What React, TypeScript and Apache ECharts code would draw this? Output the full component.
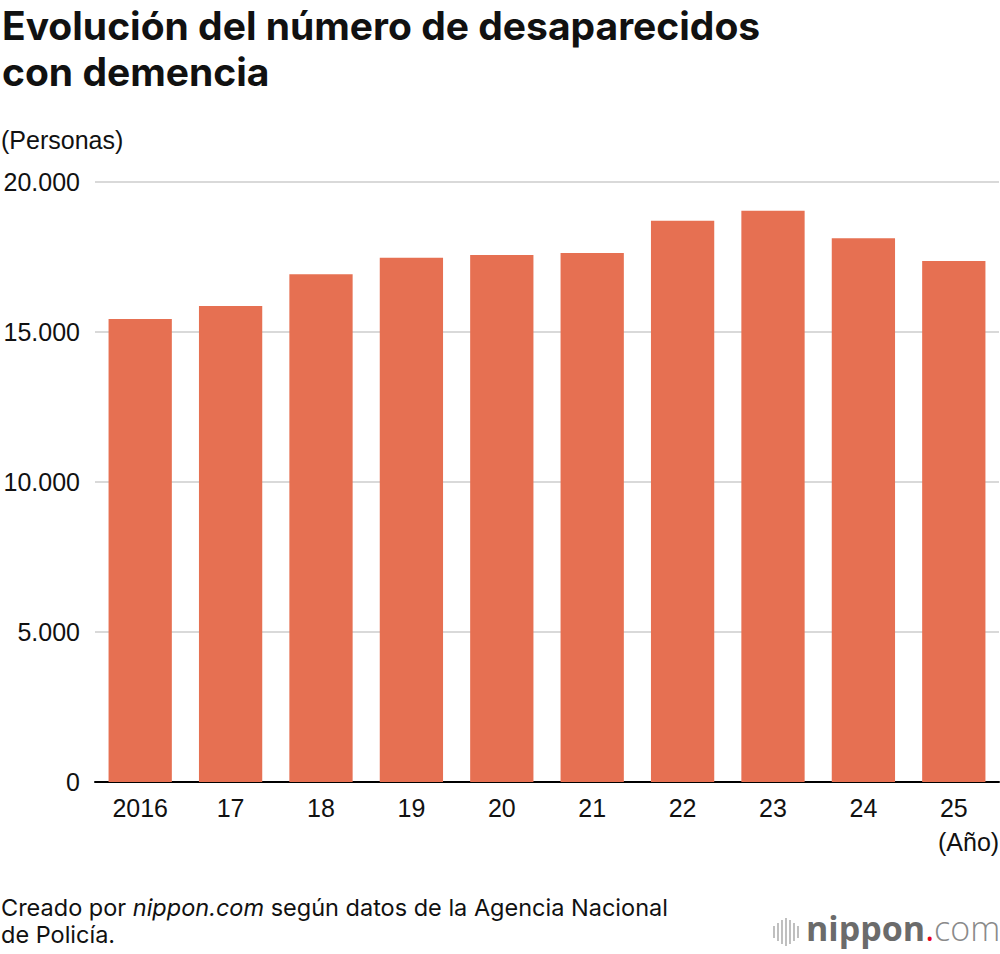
import React, { useEffect, useRef } from "react";
import * as echarts from "echarts";

const years = ["2016", "17", "18", "19", "20", "21", "22", "23", "24", "25"];
const missing = [15432, 15863, 16927, 17479, 17565, 17636, 18709, 19039, 18121, 17370];
const yTicks = [0, 5000, 10000, 15000, 20000];

const FONT = "'Liberation Sans', Arial, Helvetica, sans-serif";
const FONT2 = "Inter, 'Liberation Sans', Arial, sans-serif";

function fmt(v: number): string {
  return String(v).replace(/\B(?=(\d{3})+(?!\d))/g, ".");
}

export default function App() {
  const ref = useRef<HTMLDivElement>(null);
  useEffect(() => {
    if (!ref.current) return;
    const chart = echarts.init(ref.current, null, { renderer: "svg" });
    const heights = [6, 9, 12, 14, 12, 9, 6];
    const logoBars = heights.map((h, i) => ({
      type: "line",
      shape: { x1: 774 + i * 4, y1: 932 - h, x2: 774 + i * 4, y2: 932 + h },
      style: { stroke: "#b0b0b0", lineWidth: 1.6 },
    }));
    chart.setOption({
      animation: false,
      textStyle: { fontFamily: FONT },
      grid: { left: 95, right: 1, top: 182, bottom: 172, containLabel: false },
      xAxis: {
        type: "category",
        data: years,
        axisLine: { show: true, lineStyle: { color: "#000", width: 2 } },
        axisTick: { show: false },
        axisLabel: { color: "#111", fontSize: 25, fontFamily: FONT, margin: 13 },
      },
      yAxis: {
        type: "value",
        min: yTicks[0],
        max: yTicks[yTicks.length - 1],
        interval: 5000,
        axisLine: { show: false },
        axisTick: { show: false },
        splitLine: { lineStyle: { color: "#cccccc", width: 1.5 } },
        axisLabel: {
          color: "#111",
          fontSize: 25,
          fontFamily: FONT,
          margin: 15,
          formatter: (v: number) => fmt(v),
        },
      },
      series: [
        {
          type: "bar",
          data: missing,
          barWidth: "70%",
          itemStyle: { color: "#e67052" },
        },
      ],
      graphic: [
        {
          type: "text",
          left: 2,
          top: 2,
          style: {
            text: "Evolución del número de desaparecidos\ncon demencia",
            font: `bold 39px ${FONT2}`,
            lineHeight: 46,
            fill: "#111",
          },
        },
        {
          type: "text",
          left: 1,
          top: 127,
          style: { text: "(Personas)", font: `25px ${FONT}`, fill: "#111" },
        },
        {
          type: "text",
          left: 938,
          top: 829,
          style: { text: "(Año)", font: `25px ${FONT}`, fill: "#111" },
        },
        {
          type: "text",
          left: 1,
          top: 894,
          style: {
            text: "{n|Creado por }{i|nippon.com}{n| según datos de la Agencia Nacional}\n{n|de Policía.}",
            lineHeight: 27,
            fill: "#111",
            rich: {
              n: { font: `23.5px ${FONT2}`, fill: "#111", lineHeight: 27 },
              i: { font: `italic 23.5px ${FONT2}`, fill: "#111", lineHeight: 27 },
            },
          },
        },
        ...logoBars,
        {
          type: "text",
          left: 806,
          top: 911,
          style: {
            text: "{b|nippon}{r|.}{c|com}",
            rich: {
              b: { font: `bold 34px 'Open Sans', ${FONT}`, fill: "#6b6b6b" },
              r: { font: `34px 'Open Sans', ${FONT}`, fill: "#e8001c" },
              c: { font: `300 34px 'Open Sans', ${FONT}`, fill: "#8a8a8a" },
            },
          },
        },
      ],
    });
    return () => chart.dispose();
  }, []);
  return (
    <div
      ref={ref}
      style={{ position: "fixed", left: 0, top: 0, width: 1000, height: 954, background: "#fff" }}
    />
  );
}
